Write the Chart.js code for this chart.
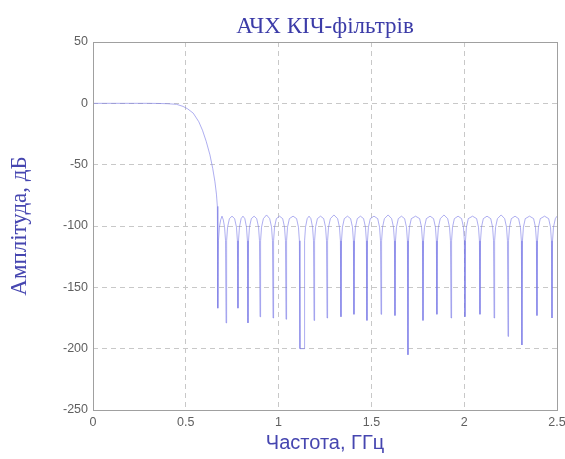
<!DOCTYPE html>
<html>
<head>
<meta charset="utf-8">
<script src="https://cdn.jsdelivr.net/npm/chart.js@4.4.0/dist/chart.umd.min.js"></script>
<style>
html,body{margin:0;padding:0;background:#fff;}
canvas{display:block;}
</style>
</head>
<body>
<canvas id="c" width="565" height="459"></canvas>
<script>
// Frequency (GHz) and amplitude (dB)
const freqGHz = [
  0, 0.1, 0.2, 0.3, 0.35, 0.4, 0.45, 0.485, 0.51, 0.54, 0.57, 0.59, 0.61, 0.63, 0.645, 0.657, 0.665, 0.67, 0.672,
  0.673, 0.676, 0.681, 0.688, 0.695, 0.702, 0.709, 0.714,
  0.717, 0.720, 0.725, 0.735, 0.749, 0.763, 0.773, 0.778,
  0.781, 0.784, 0.789, 0.798, 0.808, 0.818, 0.827, 0.832,
  0.835, 0.838, 0.843, 0.853, 0.868, 0.882, 0.892, 0.897,
  0.900, 0.903, 0.908, 0.918, 0.935, 0.952, 0.962, 0.967,
  0.970, 0.973, 0.978, 0.988, 1.005, 1.022, 1.032, 1.037,
  1.040, 1.043, 1.048, 1.058, 1.078, 1.097, 1.107, 1.112,
  1.115, 1.137, 1.140, 1.145, 1.154, 1.164, 1.174, 1.183, 1.188,
  1.191, 1.194, 1.199, 1.209, 1.226, 1.243, 1.253, 1.258,
  1.261, 1.264, 1.269, 1.279, 1.298, 1.318, 1.328, 1.333,
  1.336, 1.339, 1.344, 1.354, 1.371, 1.388, 1.398, 1.403,
  1.406, 1.409, 1.414, 1.424, 1.441, 1.458, 1.468, 1.473,
  1.476, 1.479, 1.484, 1.494, 1.514, 1.534, 1.544, 1.549,
  1.552, 1.555, 1.560, 1.570, 1.590, 1.609, 1.619, 1.624,
  1.627, 1.630, 1.635, 1.645, 1.662, 1.679, 1.689, 1.694,
  1.697, 1.700, 1.705, 1.715, 1.738, 1.760, 1.770, 1.775,
  1.778, 1.781, 1.786, 1.796, 1.816, 1.835, 1.845, 1.850,
  1.853, 1.856, 1.861, 1.871, 1.891, 1.911, 1.921, 1.926,
  1.929, 1.932, 1.937, 1.947, 1.967, 1.986, 1.996, 2.001,
  2.004, 2.007, 2.012, 2.022, 2.045, 2.067, 2.077, 2.082,
  2.085, 2.088, 2.093, 2.103, 2.123, 2.143, 2.153, 2.158,
  2.161, 2.164, 2.169, 2.179, 2.199, 2.218, 2.228, 2.233,
  2.236, 2.239, 2.244, 2.254, 2.274, 2.293, 2.303, 2.308,
  2.311, 2.314, 2.319, 2.329, 2.352, 2.374, 2.384, 2.389,
  2.392, 2.395, 2.400, 2.410, 2.433, 2.455, 2.465, 2.470,
  2.473, 2.476, 2.481, 2.491, 2.500
];
const ampDb = [
  0, 0, 0, 0, -0.1, -0.3, -0.8, -2.5, -4.5, -8, -15, -22, -31, -42, -53, -64, -74, -84, -100,
  -167, -112, -101, -95, -92, -95, -101, -112,
  -179, -112, -101, -94, -92, -94, -101, -112,
  -167, -112, -101, -94, -92, -94, -101, -112,
  -179, -112, -101, -94, -92, -94, -101, -112,
  -174, -112, -101, -94, -91, -94, -101, -112,
  -175, -112, -101, -94, -92, -94, -101, -112,
  -176, -112, -101, -94, -92, -94, -101, -112,
  -200, -200, -112, -101, -94, -92, -94, -101, -112,
  -177, -112, -101, -94, -92, -94, -101, -112,
  -175, -112, -101, -94, -91, -94, -101, -112,
  -174, -112, -101, -94, -92, -94, -101, -112,
  -172, -112, -101, -94, -92, -94, -101, -112,
  -177, -112, -101, -94, -92, -94, -101, -112,
  -172, -112, -101, -94, -91, -94, -101, -112,
  -173, -112, -101, -94, -92, -94, -101, -112,
  -205, -112, -101, -94, -92, -94, -101, -112,
  -177, -112, -101, -94, -92, -94, -101, -112,
  -172, -112, -101, -94, -91, -94, -101, -112,
  -175, -112, -101, -94, -92, -94, -101, -112,
  -174, -112, -101, -94, -92, -94, -101, -112,
  -172, -112, -101, -94, -92, -94, -101, -112,
  -175, -112, -101, -94, -91, -94, -101, -112,
  -190, -112, -101, -94, -92, -94, -101, -112,
  -197, -112, -101, -94, -92, -94, -101, -112,
  -173, -112, -101, -94, -92, -94, -101, -112,
  -175, -112, -101, -94, -92
];
const xTicks = [0, 0.5, 1, 1.5, 2, 2.5];
const yTicks = [50, 0, -50, -100, -150, -200, -250];

const points = freqGHz.map((f, i) => ({x: f, y: ampDb[i]}));

const boxPlugin = {
  id: 'box',
  afterDatasetsDraw(chart) {
    const a = chart.chartArea, ctx = chart.ctx;
    ctx.save();
    ctx.strokeStyle = '#a0a0a0';
    ctx.lineWidth = 1;
    ctx.strokeRect(Math.round(a.left) + 0.5, Math.round(a.top) + 0.5,
                   Math.round(a.right - a.left), Math.round(a.bottom - a.top));
    ctx.restore();
  }
};

const tickFont = {family: '"Liberation Sans", Arial, sans-serif', size: 12.5};

new Chart(document.getElementById('c'), {
  type: 'line',
  data: {
    datasets: [{
      data: points,
      borderColor: 'rgba(120,120,230,0.6)',
      borderWidth: 1,
      pointRadius: 0,
      tension: 0,
      fill: false
    }]
  },
  options: {
    responsive: false,
    animation: false,
    layout: {padding: {left: 0, right: 8, top: 0, bottom: 0}},
    plugins: {
      legend: {display: false},
      tooltip: {enabled: false},
      title: {
        display: true,
        fullSize: false,
        text: 'АЧХ КІЧ-фільтрів',
        color: '#3c3ca8',
        font: {family: '"Liberation Serif", "DejaVu Serif", serif', size: 23, weight: 'normal', lineHeight: 1.2},
        padding: {top: 13, bottom: 1.4}
      }
    },
    scales: {
      x: {
        type: 'linear',
        min: 0, max: 2.5,
        afterBuildTicks(s) { s.ticks = xTicks.map(v => ({value: v})); },
        afterFit(s) { s.height = 49; s.paddingRight = 0; s.paddingLeft = 0; },
        ticks: {
          color: '#606060',
          font: tickFont,
          padding: 5,
          maxRotation: 0,
          callback: v => String(v)
        },
        grid: {color: '#c8c8c8', drawTicks: false},
        border: {display: false, dash: [5, 4]},
        title: {
          display: true,
          text: 'Частота, ГГц',
          color: '#4646b0',
          font: {family: '"Liberation Sans", Arial, sans-serif', size: 20, lineHeight: 1.2},
          padding: {top: 0, bottom: 4}
        }
      },
      y: {
        type: 'linear',
        min: -250, max: 50,
        afterBuildTicks(s) { s.ticks = yTicks.map(v => ({value: v})); },
        afterFit(s) { s.width = 93; },
        ticks: {
          color: '#606060',
          font: tickFont,
          padding: 5,
          callback: v => String(v)
        },
        grid: {color: '#c8c8c8', drawTicks: false},
        border: {display: false, dash: [5, 4]},
        title: {
          display: true,
          text: 'Амплітуда, дБ',
          color: '#4646b0',
          font: {family: '"Liberation Serif", "DejaVu Serif", serif', size: 23, lineHeight: 1.2},
          padding: {top: 6, bottom: 0}
        }
      }
    }
  },
  plugins: [boxPlugin]
});
</script>
</body>
</html>
